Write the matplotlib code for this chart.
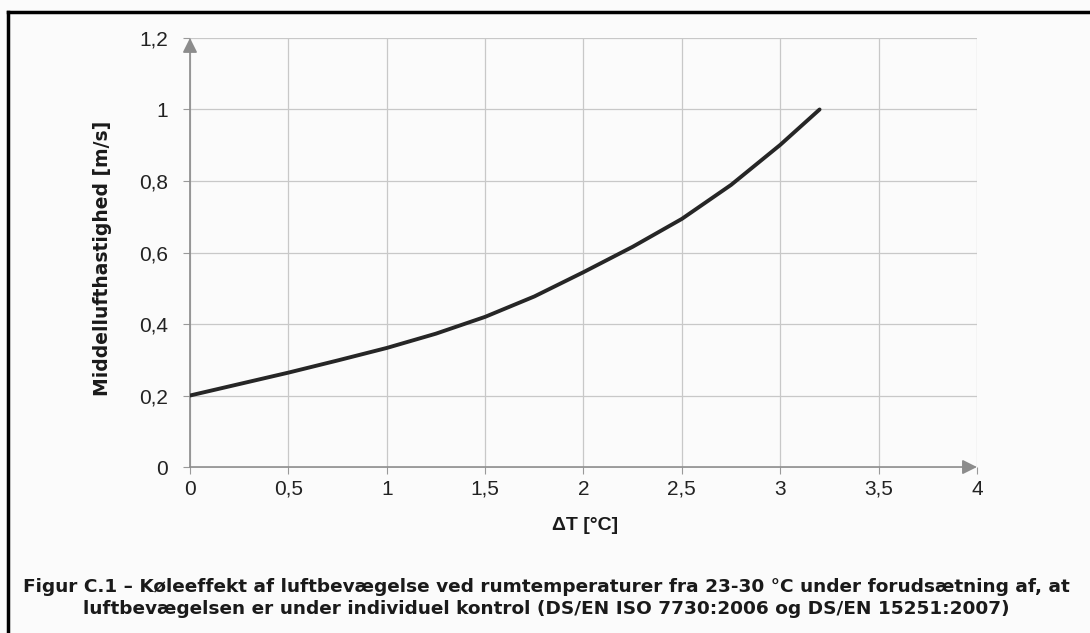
import matplotlib.pyplot as plt
from matplotlib.lines import Line2D

# values
delta_t = [0, 0.25, 0.5, 0.75, 1.0, 1.25, 1.5, 1.75, 2.0, 2.25, 2.5, 2.75, 3.0, 3.2]
velocity = [0.2, 0.232, 0.264, 0.298, 0.333, 0.373, 0.42, 0.477, 0.545, 0.616,
            0.694, 0.789, 0.901, 1.0]

x_ticks = [0, 0.5, 1, 1.5, 2, 2.5, 3, 3.5, 4]
x_labels = ['0', '0,5', '1', '1,5', '2', '2,5', '3', '3,5', '4']
y_ticks = [0, 0.2, 0.4, 0.6, 0.8, 1.0, 1.2]
y_labels = ['0', '0,2', '0,4', '0,6', '0,8', '1', '1,2']

caption = ('Figur C.1 \u2013 Køleeffekt af luftbevægelse ved rumtemperaturer fra 23-30 °C under forudsætning af, at\n'
           'luftbevægelsen er under individuel kontrol (DS/EN ISO 7730:2006 og DS/EN 15251:2007)')

plt.rcParams['font.family'] = ['Liberation Sans', 'DejaVu Sans']

fig = plt.figure(figsize=(10.9, 6.33), dpi=100, facecolor='#fbfbfb')
ax = fig.add_axes([0.1743, 0.2622, 0.7220, 0.6778])
ax.set_facecolor('#fbfbfb')

ax.set_xlim(0, 4)
ax.set_ylim(0, 1.2)
ax.set_xticks(x_ticks)
ax.set_xticklabels(x_labels)
ax.set_yticks(y_ticks)
ax.set_yticklabels(y_labels)
ax.tick_params(axis='both', labelsize=15, colors='#999999', labelcolor='#222222',
               length=5, width=0.8)
ax.tick_params(axis='x', pad=4)
ax.tick_params(axis='y', pad=11)
ax.grid(True, color='#c8c8c8', lw=0.9)
for s in ax.spines.values():
    s.set_visible(False)

# axes drawn as grey arrows
for end in [(0, 1.2), (4, 0)]:
    ax.annotate('', xy=end, xytext=(0, 0), xycoords='data',
                arrowprops=dict(arrowstyle='-|>', color='#8c8c8c', lw=1.2,
                                mutation_scale=22, shrinkA=0, shrinkB=0),
                annotation_clip=False)

ax.plot(delta_t, velocity, color='#262626', lw=2.8, solid_capstyle='round', zorder=5)

fig.text(585 / 1090, 1 - 526 / 633, '\u0394T [°C]', ha='center', va='center',
         fontsize=14, fontweight='bold', color='#1a1a1a')
fig.text(103 / 1090, 1 - 258 / 633, 'Middellufthastighed [m/s]', ha='center', va='center',
         rotation=90, fontsize=13.5, fontweight='bold', color='#1a1a1a',
         family='DejaVu Sans')

fig.text(546 / 1090, 1 - 598 / 633, caption, ha='center', va='center', fontsize=13.3,
         fontweight='bold', color='#1a1a1a', linespacing=1.25, family='DejaVu Sans')

# frame of the scanned page
fig.add_artist(Line2D([0.007, 1.0], [0.981, 0.981], color='black', lw=2.5))
fig.add_artist(Line2D([0.0075, 0.0075], [0.0, 0.981], color='black', lw=2.5))

fig.savefig('out.png', dpi=100, facecolor=fig.get_facecolor())
